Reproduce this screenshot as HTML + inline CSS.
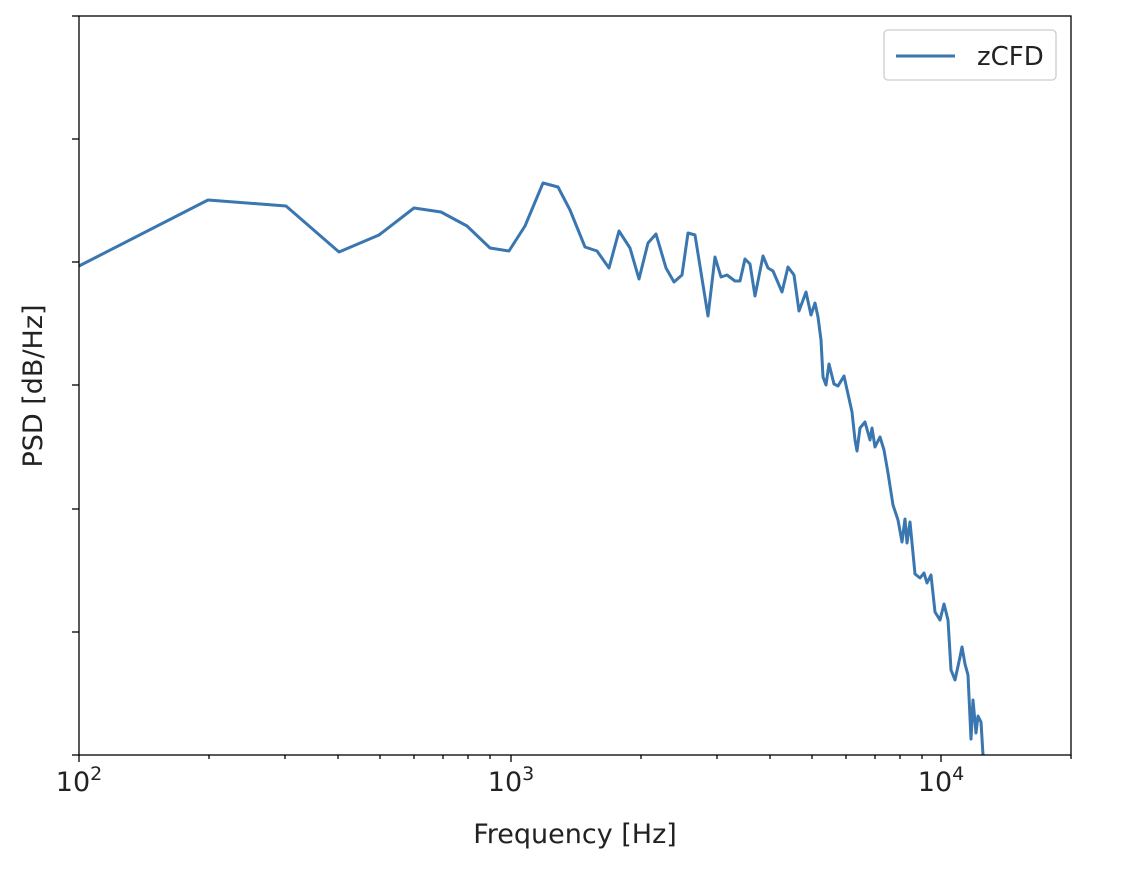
<!DOCTYPE html>
<html><head><meta charset="utf-8"><style>body{margin:0;background:#fff}</style></head><body>
<svg width="1134" height="872" xmlns="http://www.w3.org/2000/svg" font-family="'DejaVu Sans', 'Liberation Sans', sans-serif">
<rect width="1134" height="872" fill="#fff"/>
<polyline fill="none" stroke="#3a76b0" stroke-width="3" stroke-linejoin="round" points="79,266 208,200 286,206 339,252 379,235 414,208 441,212 467,226 490,248 509,251 525,226 543,183 558,187 570,210 585,247 597,251 609,268 619,231 630,248 639,279 648,243 656,234 666,268 674,282 682,275 688,233 695,235 708,316 715,257 721,277 727,275 735,281 740,281 745,259 750,264 755,296 763,256 768,268 773,271 782,292 788,267 794,275 799,311 806,292 811,315 815,303 818,317 821,340 823,377 826,385 829,364 834,384 838,386 844,376 850,403 852,412 855,440 857,451 860,428 865,422 870,440 872,428 875,447 880,437 884,450 888,473 893,505 898,520 902,542 905,519 907,543 910,522 915,574 920,578 924,573 927,583 931,575 935,612 940,620 944,604 948,620 951,670 955,680 960,657 962,647 965,664 968,675 971,739 973,700 976,733 978,716 981,722 983,755"/>
<rect x="79" y="16" width="992" height="739" fill="none" stroke="#000" stroke-width="1.3"/>
<g stroke="#000" stroke-width="1.3">
<line x1="79" y1="755" x2="79" y2="762"/><line x1="511" y1="755" x2="511" y2="762"/><line x1="941" y1="755" x2="941" y2="762"/>
<line x1="209" y1="755" x2="209" y2="759"/><line x1="285" y1="755" x2="285" y2="759"/><line x1="338" y1="755" x2="338" y2="759"/><line x1="380" y1="755" x2="380" y2="759"/><line x1="414" y1="755" x2="414" y2="759"/><line x1="443" y1="755" x2="443" y2="759"/><line x1="468" y1="755" x2="468" y2="759"/><line x1="490" y1="755" x2="490" y2="759"/>
<line x1="641" y1="755" x2="641" y2="759"/><line x1="717" y1="755" x2="717" y2="759"/><line x1="770" y1="755" x2="770" y2="759"/><line x1="812" y1="755" x2="812" y2="759"/><line x1="846" y1="755" x2="846" y2="759"/><line x1="875" y1="755" x2="875" y2="759"/><line x1="900" y1="755" x2="900" y2="759"/><line x1="922" y1="755" x2="922" y2="759"/>
<line x1="1071" y1="755" x2="1071" y2="759"/>
<line x1="72" y1="16" x2="79" y2="16"/><line x1="72" y1="139" x2="79" y2="139"/><line x1="72" y1="262" x2="79" y2="262"/><line x1="72" y1="385" x2="79" y2="385"/><line x1="72" y1="509" x2="79" y2="509"/><line x1="72" y1="632" x2="79" y2="632"/><line x1="72" y1="755" x2="79" y2="755"/>
</g>
<g font-size="27" fill="#222" text-anchor="middle">
<text x="79" y="791">10<tspan font-size="19" dy="-11">2</tspan></text>
<text x="511" y="791">10<tspan font-size="19" dy="-11">3</tspan></text>
<text x="941" y="791">10<tspan font-size="19" dy="-11">4</tspan></text>
<text x="575" y="843">Frequency [Hz]</text>
<text transform="translate(42,386) rotate(-90)">PSD [dB/Hz]</text>
</g>
<rect x="884" y="30" width="172" height="50" rx="4" fill="#fff" stroke="#ccc" stroke-width="1.3"/>
<line x1="896" y1="56" x2="955" y2="56" stroke="#3a76b0" stroke-width="3"/>
<text x="977" y="65" font-size="26" fill="#222">zCFD</text>
</svg>
</body></html>
